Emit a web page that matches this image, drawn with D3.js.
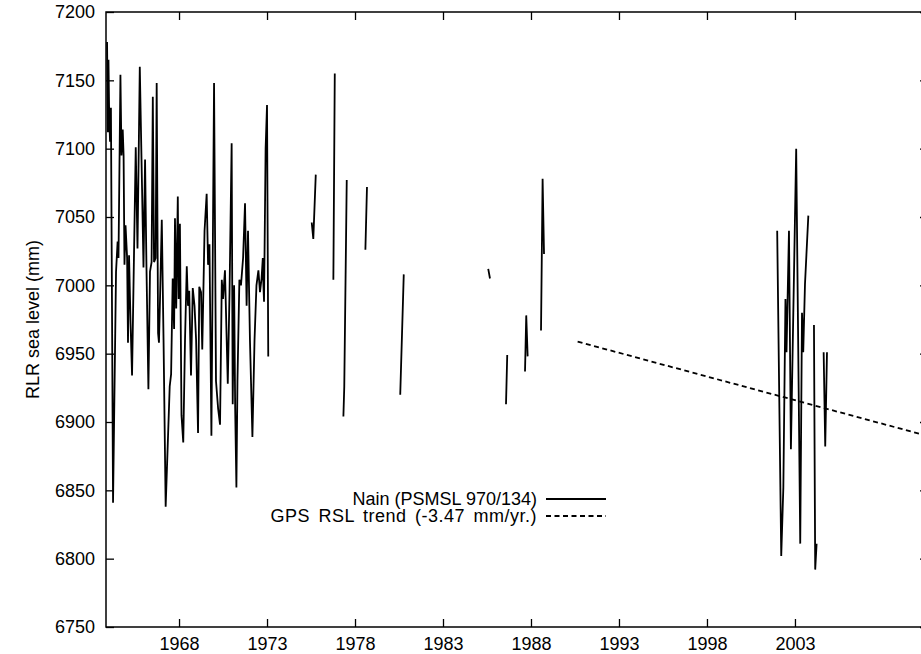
<!DOCTYPE html>
<html>
<head>
<meta charset="utf-8">
<script src="https://cdn.jsdelivr.net/npm/d3@7/dist/d3.min.js"></script>
<style>
  body { margin: 0; background: #fff; }
  svg { display: block; font-family: "Liberation Sans", Arial, sans-serif; }
</style>
</head>
<body>
<svg id="chart" width="921" height="654"></svg>
<script>
// ---- data (decimal year, RLR sea level in mm); null = gap ----
const nainYears = [
  1963.91, 1963.96, 1963.99, 1964.03, 1964.08, 1964.13, 1964.25, 1964.42, 1964.51, 1964.56,
  1964.67, 1964.73, 1964.80, 1964.85, 1964.90, 1964.96, 1965.05, 1965.10, 1965.16, 1965.24,
  1965.33, 1965.54, 1965.64, 1965.77, 1965.90, 1965.98, 1966.07, 1966.15, 1966.26, 1966.35,
  1966.44, 1966.51, 1966.58, 1966.67, 1966.73, 1966.81, 1966.86, 1966.92, 1967.02, 1967.12,
  1967.24, 1967.47, 1967.55, 1967.64, 1967.72, 1967.77, 1967.84, 1967.93, 1967.98, 1968.05,
  1968.14, 1968.24, 1968.34, 1968.44, 1968.51, 1968.58, 1968.68, 1968.78, 1968.88, 1968.97,
  1969.08, 1969.15, 1969.25, 1969.32, 1969.45, 1969.57, 1969.65, 1969.73, 1969.84, 1969.99,
  1970.10, 1970.22, 1970.33, 1970.43, 1970.50, 1970.61, 1970.77, 1970.87, 1970.99, 1971.05,
  1971.13, 1971.19, 1971.26, 1971.32, 1971.43, 1971.52, 1971.64, 1971.75, 1971.84, 1971.92,
  1972.03, 1972.17, 1972.29, 1972.40, 1972.51, 1972.60, 1972.69, 1972.76, 1972.79, 1972.83,
  1972.92, 1973.00, 1973.07,
  null,
  1975.54, 1975.63, 1975.77,
  null,
  1976.77, 1976.85,
  null,
  1977.34, 1977.39, 1977.53,
  null,
  1978.59, 1978.68,
  null,
  1980.57, 1980.77,
  null,
  1985.57, 1985.67,
  null,
  1986.58, 1986.65,
  null,
  1987.66, 1987.73, 1987.81,
  null,
  1988.57, 1988.66, 1988.74,
  null,
  2001.99, 2002.22, 2002.34, 2002.46, 2002.52, 2002.66, 2002.77, 2003.07, 2003.30, 2003.40,
  2003.47, 2003.57, 2003.76,
  null,
  2004.08, 2004.15, 2004.23,
  null,
  2004.63, 2004.72, 2004.82
];
const nainLevels = [
  7178, 7112, 7165, 7125, 7105, 7130, 6841, 7010, 7032, 7020,
  7154, 7095, 7114, 7095, 7015, 7044, 7020, 6958, 7022, 6975,
  6934, 7101, 7027, 7160, 7070, 7013, 7092, 7013, 6924, 7010,
  7017, 7138, 7017, 7020, 7148, 6965, 6958, 6990, 7048, 6960,
  6838, 6926, 6935, 7005, 6968, 7049, 6983, 7065, 6990, 7045,
  6905, 6885, 6960, 7014, 6985, 6996, 6934, 6998, 6985, 6960,
  6892, 6999, 6995, 6953, 7040, 7067, 7015, 7030, 6890, 7148,
  6930, 6910, 6898, 7004, 6990, 7011, 6928, 6995, 7104, 6913,
  7000, 6910, 6852, 6930, 7004, 7000, 7020, 7060, 6985, 7040,
  6960, 6889, 6960, 7000, 7011, 6995, 7005, 7020, 7002, 6988,
  7100, 7132, 6948,
  null,
  7046, 7034, 7081,
  null,
  7004, 7155,
  null,
  6904, 6926, 7077,
  null,
  7026, 7072,
  null,
  6920, 7008,
  null,
  7012, 7005,
  null,
  6913, 6949,
  null,
  6937, 6978, 6948,
  null,
  6967, 7078, 7023,
  null,
  7040, 6802, 6852, 6990, 6951, 7040, 6880, 7100, 6811, 6980,
  6951, 7001, 7051,
  null,
  6971, 6792, 6811,
  null,
  6951, 6882, 6951
];
const trendYears = [1990.65, 2010.56];
const trendLevels = [6958.8, 6889.7];

const xTicks = [1968, 1973, 1978, 1983, 1988, 1993, 1998, 2003];
const yTicks = [6750, 6800, 6850, 6900, 6950, 7000, 7050, 7100, 7150, 7200];
const seriesLabels = ["Nain (PSMSL 970/134)", "GPS RSL trend (-3.47 mm/yr.)"];
const yTitle = "RLR sea level (mm)";

// ---- layout ----
const L = 106, R = 928, T = 12, B = 627;
const svg = d3.select("#chart");
const x = d3.scaleLinear().domain([1963.85, 2010.56]).range([L, R]);
const y = d3.scaleLinear().domain([6750, 7200]).range([B, T]);

const fontSize = 18;
const tickLen = 8;

// frame
svg.append("rect").attr("x", L).attr("y", T).attr("width", R - L).attr("height", B - T)
  .attr("fill", "none").attr("stroke", "#000").attr("stroke-width", 1.5);

// axes
const axBottom = svg.append("g").attr("transform", `translate(0,${B})`)
  .call(d3.axisBottom(x).tickValues(xTicks).tickFormat(d3.format("d")).tickSizeInner(-tickLen).tickSizeOuter(0).tickPadding(10));
const axTop = svg.append("g").attr("transform", `translate(0,${T})`)
  .call(d3.axisTop(x).tickValues(xTicks).tickFormat("").tickSizeInner(-tickLen).tickSizeOuter(0));
const axLeft = svg.append("g").attr("transform", `translate(${L},0)`)
  .call(d3.axisLeft(y).tickValues(yTicks).tickFormat(d3.format("d")).tickSizeInner(-tickLen).tickSizeOuter(0).tickPadding(11));
const axRight = svg.append("g").attr("transform", `translate(${R},0)`)
  .call(d3.axisRight(y).tickValues(yTicks).tickFormat("").tickSizeInner(-tickLen).tickSizeOuter(0));

[axBottom, axTop, axLeft, axRight].forEach(g => {
  g.select(".domain").remove();
  g.selectAll(".tick line").attr("stroke", "#000").attr("stroke-width", 1.3);
  g.selectAll("text").attr("fill", "#000").attr("font-size", fontSize)
    .attr("font-family", "'Liberation Sans', Arial, sans-serif");
});

// y title
svg.append("text")
  .attr("transform", `translate(39,${(T + B) / 2}) rotate(-90)`)
  .attr("text-anchor", "middle")
  .attr("font-size", fontSize)
  .attr("fill", "#000")
  .text(yTitle);

// data line
const pts = nainYears.map((yr, i) => [yr, nainLevels[i]]);
const line = d3.line()
  .defined(d => d[0] !== null && d[1] !== null)
  .x(d => x(d[0])).y(d => y(d[1]));

svg.append("path").datum(pts)
  .attr("d", line).attr("fill", "none").attr("stroke", "#000")
  .attr("stroke-width", 1.8).attr("stroke-linejoin", "miter");

// trend
const trendPts = trendYears.map((yr, i) => [yr, trendLevels[i]]);
svg.append("path").datum(trendPts)
  .attr("d", line).attr("fill", "none").attr("stroke", "#000")
  .attr("stroke-width", 1.8).attr("stroke-dasharray", "5,3.5");

// legend
const legX = 537, legY = [499, 516];
const legStyles = [null, "5,3.5"];
seriesLabels.forEach((lab, i) => {
  svg.append("text").attr("x", legX).attr("y", legY[i]).attr("dy", "0.35em")
    .attr("text-anchor", "end").attr("font-size", fontSize).attr("fill", "#000")
    .attr("word-spacing", i === 1 ? 3 : 0)
    .attr("letter-spacing", i === 1 ? 0.5 : 0)
    .text(lab);
  svg.append("line").attr("x1", 546).attr("x2", 606).attr("y1", legY[i]).attr("y2", legY[i])
    .attr("stroke", "#000").attr("stroke-width", 1.8)
    .attr("stroke-dasharray", legStyles[i]);
});
</script>
</body>
</html>
